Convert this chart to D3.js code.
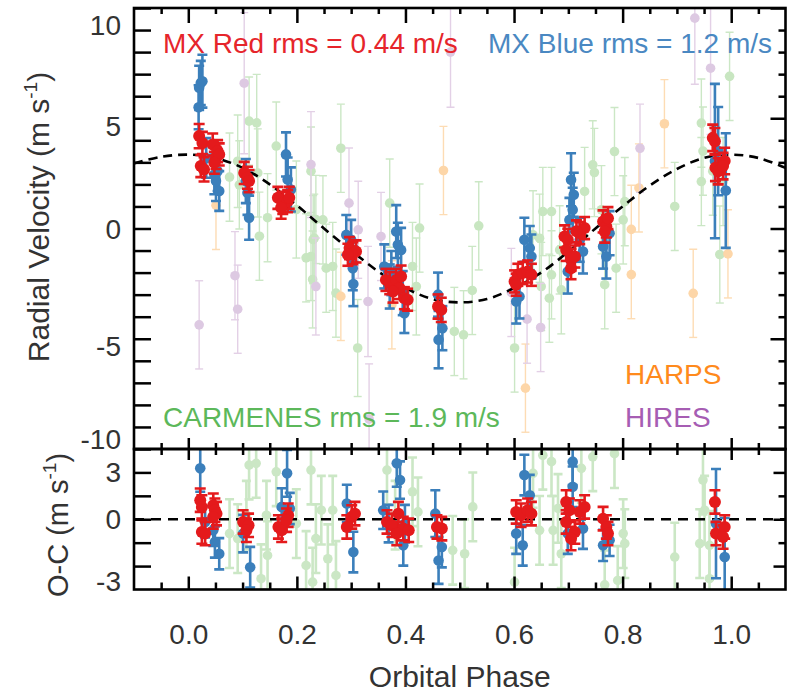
<!DOCTYPE html>
<html>
<head>
<meta charset="utf-8">
<script src="https://cdn.jsdelivr.net/npm/d3@7"></script>
<style>
  body { margin: 0; background: #fff; }
  svg { display: block; font-family: "Liberation Sans", Arial, Helvetica, sans-serif; }
  .tick text { fill: #333; font-size: 28px; font-family: "Liberation Sans", Arial, Helvetica, sans-serif; }
  .tick line { stroke: #000; stroke-width: 2.5; }
</style>
</head>
<body>
<div id="chart"></div>
<script>
// model curve
var modelPhase = [-0.1, -0.05, 0.0, 0.05, 0.1, 0.15, 0.2, 0.25, 0.3, 0.35, 0.4, 0.45, 0.5,
                  0.55, 0.6, 0.65, 0.7, 0.75, 0.8, 0.85, 0.9, 0.95, 1.0, 1.05, 1.1];
var modelRV = [2.95, 3.25, 3.35, 3.2, 2.75, 2.0, 1.05, 0.0, -1.0, -1.95, -2.7, -3.2, -3.35,
               -3.2, -2.7, -2.0, -1.05, 0.0, 1.0, 1.95, 2.7, 3.2, 3.35, 3.2, 2.75];

// [phase, rv, err]
var carmenes = [[0.076,2.33,2.0],[0.091,3.05,2.1],[0.094,1.98,2.0],[0.112,4.87,2.0],[0.126,4.79,2.2],
  [0.128,2.52,2.0],[0.131,-0.35,2.0],[0.146,0.49,2.0],[0.162,3.74,2.0],[0.199,0.86,2.2],[0.217,-1.33,2.0],
  [0.226,2.6,2.0],[0.230,-0.5,2.0],[0.229,-2.31,2.2],[0.235,0.41,2.0],[0.281,3.64,2.0],[0.248,0.39,2.0],
  [0.232,-0.44,2.0],[0.226,-1.27,2.0],[0.254,-1.8,2.0],[0.266,-1.72,2.0],[0.272,-2.93,2.0],[0.312,-5.42,2.2],
  [0.371,1.15,2.0],[0.426,0.02,2.0],[0.413,-1.72,2.0],[0.420,-2.63,2.2],[0.490,-4.67,2.0],[0.507,-4.82,2.0],
  [0.523,-2.81,2.0],[0.535,0.12,2.0],[0.601,-5.42,2.0],[0.635,-0.29,2.0],[0.647,-0.44,2.0],[0.653,0.77,2.0],
  [0.669,0.77,2.0],[0.650,-2.63,2.0],[0.665,-3.16,2.0],[0.669,-2.1,2.0],[0.684,-0.97,2.0],[0.687,-2.78,2.0],
  [0.730,1.68,2.0],[0.745,2.89,2.0],[0.748,2.54,2.0],[0.761,0.85,2.0],[0.785,3.49,2.0],[0.801,0.39,2.0],
  [0.804,1.22,2.0],[0.767,-2.55,2.0],[0.788,-1.8,2.0],[0.896,1.0,2.0],[0.945,4.78,2.0],[0.945,2.13,2.0],
  [0.948,3.51,2.0],[0.997,6.9,2.0],[0.985,2.13,2.0],[0.979,-1.18,2.2],[0.966,2.6,2.0]];

var harps = [[0.051,1.05,2.0],[0.281,-3.08,2.0],[0.375,-3.46,2.0],[0.470,2.63,2.0],[0.621,-7.24,2.0],
  [0.816,-0.04,2.0],[0.816,-2.09,2.0],[0.830,1.84,2.0],[0.877,4.75,2.0],[0.930,-2.94,2.0],[0.994,-1.15,2.0]];

var hires = [[0.103,6.59,3.2],[0.020,-4.37,2.0],[0.086,-2.14,2.0],[0.091,-3.66,2.0],[0.226,2.9,2.4],
  [0.296,1.15,2.5],[0.313,-0.06,2.2],[0.235,-2.63,2.2],[0.331,-3.31,2.5],[0.355,-0.36,2.0],[0.333,-8.64,2.5],
  [0.595,-2.9,2.0],[0.624,-4.11,2.0],[0.649,-4.49,2.0],[0.832,3.64,2.0],[0.933,9.54,3.0],[0.962,7.27,3.0],
  [0.483,8.0,2.5]];

var mxBlue = [[0.020,6.38,1.0],[0.023,6.60,1.0],[0.026,6.68,1.2],[0.019,5.50,1.0],[0.033,3.20,0.9],
  [0.054,2.60,0.9],[0.051,2.15,0.9],[0.057,1.70,0.9],[0.048,2.45,0.9],
  [0.106,2.15,1.0],[0.109,1.62,1.0],[0.112,0.49,1.0],
  [0.180,3.36,1.0],[0.183,2.22,1.0],[0.189,1.77,1.0],
  [0.291,-0.29,0.9],[0.300,-0.51,0.9],[0.303,-1.80,1.0],[0.304,-2.52,1.0],
  [0.383,-0.14,1.2],[0.386,-0.74,1.0],[0.392,-0.97,1.0],[0.361,-1.72,1.0],[0.374,-2.02,1.0],
  [0.398,-3.84,0.9],[0.395,-2.93,1.0],[0.371,-2.63,1.0],
  [0.460,-3.00,1.0],[0.468,-4.52,1.0],[0.461,-5.04,1.3],
  [0.604,-3.31,1.0],[0.619,-0.51,1.0],[0.629,-0.89,1.0],[0.632,-1.27,1.0],[0.610,-3.08,1.0],
  [0.705,2.21,1.2],[0.710,1.53,1.0],[0.702,0.39,1.0],[0.708,0.85,1.0],[0.699,-1.95,1.0],[0.727,-1.04,1.0],[0.721,-0.51,1.0],
  [0.764,-0.82,1.0],[0.770,-1.27,1.0],[0.776,-0.21,1.0],
  [0.970,3.06,3.5],[0.990,1.72,2.6],[0.976,3.51,2.0]];

var mxRed = [[0.020,4.19,0.55],[0.026,3.88,0.5],[0.023,2.83,0.5],[0.029,2.68,0.55],
  [0.045,3.81,0.5],[0.054,3.51,0.5],[0.051,3.20,0.5],[0.057,3.36,0.5],[0.048,2.98,0.5],
  [0.103,2.52,0.5],[0.109,2.30,0.5],[0.112,2.15,0.5],
  [0.165,1.39,0.5],[0.174,1.16,0.5],[0.183,1.24,0.5],[0.171,0.94,0.5],[0.186,1.39,0.5],
  [0.297,-0.89,0.5],[0.303,-1.12,0.5],[0.309,-1.04,0.5],[0.294,-1.19,0.5],
  [0.364,-2.33,0.5],[0.371,-2.48,0.5],[0.383,-2.33,0.5],[0.389,-2.70,0.5],[0.398,-3.16,0.5],
  [0.404,-3.23,0.5],[0.377,-2.86,0.5],[0.392,-2.18,0.5],
  [0.460,-3.54,0.55],[0.466,-3.69,0.55],
  [0.601,-2.40,0.5],[0.607,-2.10,0.5],[0.616,-2.02,0.5],[0.625,-1.95,0.5],[0.632,-2.10,0.5],[0.604,-2.55,0.5],
  [0.693,-0.36,0.5],[0.699,-0.51,0.5],[0.696,-0.97,0.5],[0.705,-1.42,0.5],[0.712,-1.27,0.5],
  [0.705,-1.80,0.5],[0.721,-0.21,0.5],[0.730,0.02,0.5],[0.715,-0.13,0.5],
  [0.764,0.32,0.5],[0.770,0.09,0.5],[0.773,0.47,0.5],[0.767,-0.14,0.5],
  [0.966,4.11,0.6],[0.970,3.96,0.6],[0.971,2.75,0.6],[0.976,2.60,0.6],[0.988,3.06,0.6],[0.985,2.83,0.6]];

// residuals [phase, o-c, err]
var carmenesOC = [[0.076,-0.92,2.2],[0.091,-1.24,2.2],[0.107,0.26,2.2],[0.112,3.47,2.2],[0.125,3.58,2.2],
  [0.134,-3.81,2.2],[0.144,0.26,2.2],[0.146,-2.32,2.2],[0.162,3.04,2.2],[0.199,-0.28,2.2],[0.217,-2.96,2.2],
  [0.229,-4.03,2.2],[0.235,-1.24,2.2],[0.226,3.15,2.2],[0.245,0.58,2.2],[0.257,-2.53,2.2],[0.272,-3.6,2.2],
  [0.266,0.58,2.2],[0.366,3.15,2.2],[0.381,0.26,2.2],[0.413,1.76,2.2],[0.423,0.47,2.2],[0.487,-1.99,2.2],
  [0.509,-2.21,2.2],[0.524,0.79,2.2],[0.601,-4.03,2.2],[0.635,2.94,2.2],[0.653,4.1,2.2],[0.669,3.69,2.2],
  [0.647,-0.71,2.2],[0.672,-0.71,2.2],[0.687,-2.21,2.2],[0.681,0.69,2.2],[0.724,3.26,2.2],[0.745,4.0,2.2],
  [0.785,4.2,2.2],[0.767,-4.2,2.2],[0.791,-3.92,2.2],[0.804,-1.56,2.2],[0.801,-0.92,2.2],[0.896,-2.42,2.2],
  [0.942,-1.56,2.2],[0.948,2.51,2.2],[0.951,0.58,2.2],[0.960,-1.67,2.2],[0.960,-3.81,2.2]];

var mxBlueOC = [[0.022,3.26,1.5],[0.031,-0.17,1.0],[0.046,-0.71,1.0],[0.049,-1.46,1.0],[0.057,-2.21,1.0],
  [0.101,-0.92,1.2],[0.114,-3.07,1.3],[0.172,0.79,1.2],[0.182,2.94,1.5],[0.187,0.69,1.0],
  [0.292,1.01,1.2],[0.304,-2.1,1.3],[0.359,0.58,1.2],[0.369,-0.28,1.2],[0.384,3.58,1.5],[0.390,2.51,1.2],
  [0.396,-1.67,1.3],[0.399,-0.28,1.2],[0.455,0.36,1.5],[0.461,-2.64,1.5],[0.467,-1.78,1.3],
  [0.619,2.83,1.3],[0.604,-0.92,1.3],[0.616,-1.67,1.3],[0.629,1.54,1.3],
  [0.708,3.69,1.5],[0.708,2.08,1.3],[0.699,-0.92,1.3],[0.727,-0.6,1.3],
  [0.764,-1.67,1.0],[0.776,-1.35,1.0],[0.972,-0.28,3.5],[0.988,-2.42,2.5]];

var mxRedOC = [[0.022,1.22,0.75],[0.025,0.79,0.75],[0.025,-0.82,0.75],[0.031,-0.92,0.75],
  [0.046,0.9,0.75],[0.049,0.58,0.75],[0.052,0.36,0.75],[0.046,0.15,0.75],
  [0.101,-0.17,0.75],[0.111,-0.39,0.75],[0.107,-0.71,0.75],
  [0.166,-0.49,0.75],[0.172,-0.71,0.75],[0.184,0.26,0.75],[0.181,-0.06,0.75],
  [0.292,-0.49,0.75],[0.301,0.15,0.75],[0.307,0.36,0.75],
  [0.366,-0.17,0.75],[0.375,-0.39,0.75],[0.387,0.36,0.75],[0.396,-0.6,0.75],[0.406,-0.71,0.75],[0.384,-0.92,0.75],
  [0.458,-0.49,0.75],[0.467,-0.6,0.75],
  [0.604,0.47,0.75],[0.613,0.26,0.75],[0.625,0.58,0.75],[0.632,0.36,0.75],
  [0.696,1.11,0.75],[0.702,0.58,0.75],[0.712,-0.82,0.75],[0.705,-1.24,0.75],[0.721,0.47,0.75],
  [0.730,0.79,0.75],[0.696,-0.17,0.75],
  [0.764,0.04,0.75],[0.770,-0.49,0.75],[0.773,-0.92,0.75],
  [0.970,1.11,0.75],[0.972,-0.92,0.75],[0.988,-0.49,0.75],[0.985,-1.14,0.75]];

var phaseTicks = [0.0, 0.2, 0.4, 0.6, 0.8, 1.0];
var rvTicks = [-10, -5, 0, 5, 10];
var ocTicks = [-3, 0, 3];

var width = 795, height = 695;
var padLeft = 134, padRight = 785.5, padTop = 8, midY = 449, padBottom = 589.5;

var x = d3.scaleLinear().domain([-0.1, 1.1]).range([padLeft, padRight]);
var yTop = d3.scaleLinear().domain([-10, 10]).range([midY, padTop]);
var yBot = d3.scaleLinear().domain([-4.5, 4.5]).range([padBottom, midY]);

var svg = d3.select("#chart").append("svg")
    .attr("width", width)
    .attr("height", height);

var defs = svg.append("defs");
defs.append("clipPath").attr("id", "clipTop").append("rect")
    .attr("x", padLeft).attr("y", padTop).attr("width", padRight - padLeft).attr("height", midY - padTop);
defs.append("clipPath").attr("id", "clipBot").append("rect")
    .attr("x", padLeft).attr("y", midY).attr("width", padRight - padLeft).attr("height", padBottom - midY);

var gTop = svg.append("g").attr("clip-path", "url(#clipTop)");
var gBot = svg.append("g").attr("clip-path", "url(#clipBot)");

function errorPoints(g, data, yS, o) {
    var s = g.append("g");
    var pt = s.selectAll("g").data(data).enter().append("g")
        .attr("stroke", o.bar)
        .attr("stroke-width", o.sw);
    pt.append("line")
        .attr("x1", function (d) { return x(d[0]); })
        .attr("x2", function (d) { return x(d[0]); })
        .attr("y1", function (d) { return yS(d[1] - d[2]); })
        .attr("y2", function (d) { return yS(d[1] + d[2]); });
    [-1, 1].forEach(function (k) {
        pt.append("line")
            .attr("x1", function (d) { return x(d[0]) - o.cap; })
            .attr("x2", function (d) { return x(d[0]) + o.cap; })
            .attr("y1", function (d) { return yS(d[1] + k * d[2]); })
            .attr("y2", function (d) { return yS(d[1] + k * d[2]); });
    });
    s.selectAll("circle").data(data).enter().append("circle")
        .attr("cx", function (d) { return x(d[0]); })
        .attr("cy", function (d) { return yS(d[1]); })
        .attr("r", o.r)
        .attr("fill", o.fill);
}

var lightGreen = {bar: "#cbe7c5", fill: "#c8e6c1", sw: 1.4, cap: 4, r: 4.8};
var lightOrange = {bar: "#fddcb4", fill: "#fdd6a8", sw: 1.4, cap: 4, r: 4.8};
var lightPurple = {bar: "#e3d0e6", fill: "#ddc9e2", sw: 1.4, cap: 4, r: 4.8};
var blue = {bar: "#3b7fbb", fill: "#3b7fbb", sw: 2.6, cap: 5, r: 5.3};
var red = {bar: "#e41a1c", fill: "#e41a1c", sw: 2.6, cap: 5.5, r: 6};

// top panel
errorPoints(gTop, carmenes, yTop, lightGreen);
errorPoints(gTop, harps, yTop, lightOrange);
errorPoints(gTop, hires, yTop, lightPurple);

var line = d3.line()
    .x(function (d) { return x(d[0]); })
    .y(function (d) { return yTop(d[1]); })
    .curve(d3.curveCatmullRom);

gTop.append("path")
    .datum(modelPhase.map(function (p, i) { return [p, modelRV[i]]; }))
    .attr("d", line)
    .attr("fill", "none")
    .attr("stroke", "#000")
    .attr("stroke-width", 2.6)
    .attr("stroke-dasharray", "9,6");

errorPoints(gTop, mxBlue, yTop, blue);
errorPoints(gTop, mxRed, yTop, red);

// bottom panel
errorPoints(gBot, carmenesOC, yBot, {bar: "#cbe7c5", fill: "#cbe7c5", sw: 2.6, cap: 4.5, r: 4.8});
gBot.append("line")
    .attr("x1", padLeft).attr("x2", padRight)
    .attr("y1", yBot(0)).attr("y2", yBot(0))
    .attr("stroke", "#000")
    .attr("stroke-width", 2.6)
    .attr("stroke-dasharray", "10,7");
errorPoints(gBot, mxBlueOC, yBot, blue);
errorPoints(gBot, mxRedOC, yBot, red);

// axes
var xMinor = d3.range(-0.05, 1.1, 0.05).filter(function (v) {
    return phaseTicks.every(function (t) { return Math.abs(t - v) > 1e-6; });
});
var rvMinor = d3.range(-9, 10).filter(function (v) { return v % 5 !== 0; });
var ocMinor = [-1.5, 1.5];

function addAxis(axis, tx, ty) {
    var g = svg.append("g").attr("transform", "translate(" + tx + "," + ty + ")").call(axis);
    g.select(".domain").remove();
    return g;
}

// x ticks on all horizontal edges
addAxis(d3.axisTop(x).tickValues(xMinor).tickSize(-6).tickFormat(""), 0, padTop);
addAxis(d3.axisTop(x).tickValues(phaseTicks).tickSize(-15).tickFormat(""), 0, padTop);
addAxis(d3.axisBottom(x).tickValues(xMinor).tickSize(-6).tickFormat(""), 0, midY);
addAxis(d3.axisBottom(x).tickValues(phaseTicks).tickSize(-11).tickFormat(""), 0, midY);
addAxis(d3.axisTop(x).tickValues(xMinor).tickSize(-6).tickFormat(""), 0, midY);
addAxis(d3.axisTop(x).tickValues(phaseTicks).tickSize(-11).tickFormat(""), 0, midY);
addAxis(d3.axisBottom(x).tickValues(xMinor).tickSize(-7).tickFormat(""), 0, padBottom);
addAxis(d3.axisBottom(x).tickValues(phaseTicks).tickSize(-13).tickPadding(35)
    .tickFormat(d3.format(".1f")), 0, padBottom);

// y ticks, top panel
var rvShift = {"10": 18, "5": 8, "0": 1, "-5": 8, "-10": -9};
addAxis(d3.axisLeft(yTop).tickValues(rvMinor).tickSize(-17).tickFormat(""), padLeft, 0);
addAxis(d3.axisLeft(yTop).tickValues(rvTicks).tickSize(-17).tickPadding(13)
    .tickFormat(function (d) { return String(d); }), padLeft, 0)
  .selectAll("text")
    .attr("transform", function (d) { return "translate(0," + rvShift[d] + ")"; });
addAxis(d3.axisRight(yTop).tickValues(rvMinor).tickSize(-7).tickFormat(""), padRight, 0);
addAxis(d3.axisRight(yTop).tickValues(rvTicks).tickSize(-15).tickFormat(""), padRight, 0);

// y ticks, bottom panel
var ocShift = {"3": 0, "0": 0, "-3": 15};
addAxis(d3.axisLeft(yBot).tickValues(ocMinor).tickSize(-17).tickFormat(""), padLeft, 0);
addAxis(d3.axisLeft(yBot).tickValues(ocTicks).tickSize(-17).tickPadding(13)
    .tickFormat(function (d) { return String(d); }), padLeft, 0)
  .selectAll("text")
    .attr("transform", function (d) { return "translate(0," + ocShift[d] + ")"; });
addAxis(d3.axisRight(yBot).tickValues(ocMinor).tickSize(-7).tickFormat(""), padRight, 0);
addAxis(d3.axisRight(yBot).tickValues(ocTicks).tickSize(-12).tickFormat(""), padRight, 0);

// frames
[[padTop, midY], [midY, padBottom]].forEach(function (p) {
    svg.append("rect")
        .attr("x", padLeft).attr("y", p[0])
        .attr("width", padRight - padLeft).attr("height", p[1] - p[0])
        .attr("fill", "none")
        .attr("stroke", "#000")
        .attr("stroke-width", 2.6);
});

// titles
function yTitle(label, tx, ty, fs) {
    var t = svg.append("text")
        .attr("transform", "translate(" + tx + "," + ty + ") rotate(-90)")
        .attr("text-anchor", "middle")
        .attr("font-size", fs)
        .attr("fill", "#333");
    t.append("tspan").text(label + " (m s");
    t.append("tspan").attr("font-size", 19).attr("dy", -12).text("-1");
    t.append("tspan").attr("dy", 12).text(")");
}
yTitle("Radial Velocity", 49, 217, 30);
yTitle("O-C", 68, 525, 29);

svg.append("text")
    .attr("x", (padLeft + padRight) / 2)
    .attr("y", 687)
    .attr("text-anchor", "middle")
    .attr("font-size", 30)
    .attr("fill", "#333")
    .text("Orbital Phase");

// annotations
var notes = [
    {text: "MX Red rms = 0.44 m/s", x: 163, y: 53, anchor: "start", color: "#e6252b"},
    {text: "MX Blue rms = 1.2 m/s", x: 772, y: 53, anchor: "end", color: "#4a88c2"},
    {text: "CARMENES rms = 1.9 m/s", x: 163, y: 427, anchor: "start", color: "#5cb85a"},
    {text: "HARPS", x: 625, y: 384, anchor: "start", color: "#ff8a1c"},
    {text: "HIRES", x: 625, y: 427, anchor: "start", color: "#a65db3"}
];
svg.selectAll(".note").data(notes).enter().append("text")
    .attr("class", "note")
    .attr("x", function (d) { return d.x; })
    .attr("y", function (d) { return d.y; })
    .attr("text-anchor", function (d) { return d.anchor; })
    .attr("font-size", 28)
    .attr("fill", function (d) { return d.color; })
    .text(function (d) { return d.text; });
</script>
</body>
</html>
